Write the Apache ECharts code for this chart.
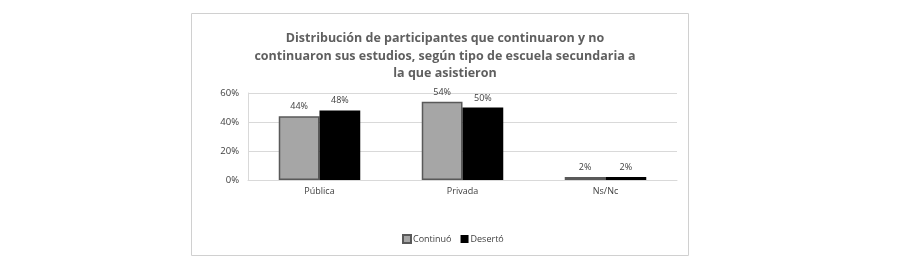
<!DOCTYPE html>
<html>
<head>
<meta charset="utf-8">
<script src="https://cdn.jsdelivr.net/npm/echarts@6/dist/echarts.min.js"></script>
<style>
  html, body { margin: 0; padding: 0; background: #fff; }
  #chart { width: 899px; height: 264px; }
</style>
</head>
<body>
<div id="chart"></div>
<script>
var categories = ['Pública', 'Privada', 'Ns/Nc']
var continuo = [44, 54, 2]
var deserto = [48, 50, 2]
var yTicks = [0, 20, 40, 60]

var font = 'Open Sans'
var chart = echarts.init(document.getElementById('chart'))
chart.setOption({
    animation: false,
    title: {
        text: 'Distribución de participantes que continuaron y no\ncontinuaron sus estudios, según tipo de escuela secundaria a\nla que asistieron',
        left: 440,
        textAlign: 'center',
        top: 25,
        textStyle: {
            fontFamily: font,
            fontSize: 12.5,
            fontWeight: 'bold',
            color: '#5f5f5f',
            lineHeight: 17.5
        }
    },
    graphic: [{
        type: 'rect',
        shape: { x: 191.5, y: 13.5, width: 497, height: 242 },
        style: { fill: 'none', stroke: '#d0d0d0', lineWidth: 1 },
        z: -1
    }],
    legend: {
        data: ['Continuó', 'Desertó'],
        left: 397,
        top: 229,
        itemWidth: 8,
        itemHeight: 8,
        itemGap: 9,
        textStyle: { fontFamily: font, fontSize: 9, color: '#404040', padding: [0, 0, 0, -3] },
        icon: 'rect'
    },
    grid: { left: 248, right: 222, top: 93, bottom: 84 },
    xAxis: {
        type: 'category',
        data: categories,
        axisLine: { lineStyle: { color: '#d9d9d9' } },
        axisTick: { show: false },
        axisLabel: { fontFamily: font, fontSize: 9, color: '#404040', margin: 7 }
    },
    yAxis: {
        type: 'value',
        min: yTicks[0],
        max: yTicks[yTicks.length - 1],
        interval: 20,
        axisLine: { show: true, lineStyle: { color: '#d9d9d9' } },
        axisLabel: { fontFamily: font, fontSize: 9.5, color: '#404040', formatter: '{value}%', margin: 9 },
        splitLine: { lineStyle: { color: '#d9d9d9' } }
    },
    series: [{
        name: 'Continuó',
        type: 'bar',
        data: continuo,
        barGap: '0%',
        barCategoryGap: '43%',
        itemStyle: { color: '#a6a6a6', borderColor: '#595959', borderWidth: 1.5 },
        label: { show: true, position: 'top', formatter: '{c}%', fontFamily: font, fontSize: 9, color: '#404040', distance: 5 }
    }, {
        name: 'Desertó',
        type: 'bar',
        data: deserto,
        itemStyle: { color: '#000000' },
        label: { show: true, position: 'top', formatter: '{c}%', fontFamily: font, fontSize: 9, color: '#404040', distance: 5 }
    }]
})
</script>
</body>
</html>
